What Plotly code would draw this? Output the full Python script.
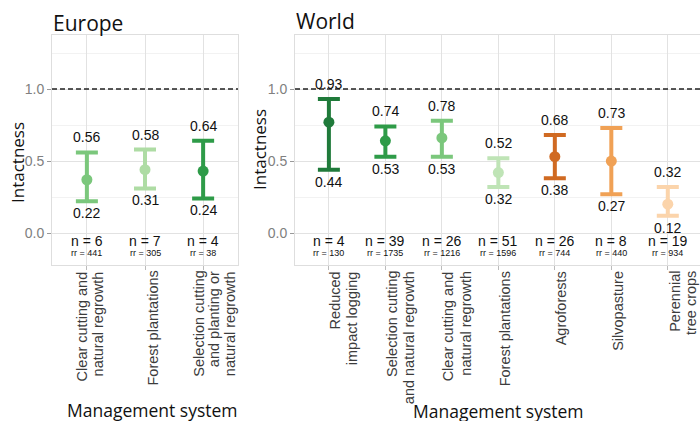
import plotly.graph_objects as go

# ---------------- data ----------------
eu_categories = ["Clear cutting and<br>natural regrowth", "Forest plantations",
                 "Selection cutting<br>and planting or<br>natural regrowth"]
eu_mean = [0.37, 0.44, 0.43]
eu_lower = [0.22, 0.31, 0.24]
eu_upper = [0.56, 0.58, 0.64]
eu_n = [6, 7, 4]
eu_rr = [441, 305, 38]

w_categories = ["Reduced<br>impact logging", "Selection cutting<br>and natural regrowth",
                "Clear cutting and<br>natural regrowth", "Forest plantations",
                "Agroforests", "Silvopasture", "Perennial<br>tree crops"]
w_mean = [0.77, 0.64, 0.66, 0.42, 0.53, 0.50, 0.20]
w_lower = [0.44, 0.53, 0.53, 0.32, 0.38, 0.27, 0.12]
w_upper = [0.93, 0.74, 0.78, 0.52, 0.68, 0.73, 0.32]
w_n = [4, 39, 26, 51, 26, 8, 19]
w_rr = [130, 1735, 1216, 1596, 744, 440, 934]

y_ticks = [0.0, 0.5, 1.0]
y_ticktext = ["0.0", "0.5", "1.0"]

# ---------------- styles ----------------
eu_colors = ["#7bc77c", "#aedca4", "#2e9b48"]
w_colors = ["#1f7a3a", "#2e9b48", "#7bc77c", "#bfe4b6", "#d06a22", "#f0a155", "#fbd4ab"]

W, H = 700, 421
FONT = "Liberation Sans, Arial, sans-serif"
TFONT = "Open Sans, Liberation Sans, sans-serif"

def px_x(p):
    return p / W

def px_y(p):
    return 1 - p / H

fig = go.Figure()

panels = [
    dict(cats=eu_categories, mean=eu_mean, lo=eu_lower, hi=eu_upper, n=eu_n, rr=eu_rr,
         colors=eu_colors, xa="x", ya="y", title="Europe"),
    dict(cats=w_categories, mean=w_mean, lo=w_lower, hi=w_upper, n=w_n, rr=w_rr,
         colors=w_colors, xa="x2", ya="y2", title="World"),
]

annotations = []
shapes = []
for pi, p in enumerate(panels):
    idx = list(range(len(p["cats"])))
    for i in idx:
        fig.add_trace(go.Scatter(
            x=[i], y=[p["mean"][i]], mode="markers",
            xaxis=p["xa"], yaxis=p["ya"],
            marker=dict(color=p["colors"][i], size=11),
            error_y=dict(type="data", symmetric=False,
                         array=[p["hi"][i] - p["mean"][i]],
                         arrayminus=[p["mean"][i] - p["lo"][i]],
                         color=p["colors"][i], thickness=4, width=11),
            showlegend=False, hoverinfo="skip"))
        annotations.append(dict(x=i, y=p["hi"][i], xref=p["xa"], yref=p["ya"],
                                text=f"{p['hi'][i]:.2f}", showarrow=False,
                                yanchor="middle", yshift=15,
                                font=dict(size=14, color="#111", family=FONT)))
        annotations.append(dict(x=i, y=p["lo"][i], xref=p["xa"], yref=p["ya"],
                                text=f"{p['lo'][i]:.2f}", showarrow=False,
                                yanchor="middle", yshift=-12,
                                font=dict(size=14, color="#111", family=FONT)))
        annotations.append(dict(x=i, y=-0.055, xref=p["xa"], yref=p["ya"],
                                text=f"n = {p['n'][i]}", showarrow=False,
                                yanchor="middle",
                                font=dict(size=14, color="#111", family=FONT)))
        annotations.append(dict(x=i, y=-0.14, xref=p["xa"], yref=p["ya"],
                                text=f"rr = {p['rr'][i]}", showarrow=False,
                                yanchor="middle",
                                font=dict(size=9, color="#111", family=FONT)))
        lines = p["cats"][i].split("<br>")
        if pi == 0:
            first, step = (7, 0) if len(lines) == 1 else (-4.5, 15.5)
        else:
            first, step = 6.5, 16.8
        for k, line in enumerate(lines):
            annotations.append(dict(x=i, y=px_y(269), xref=p["xa"], yref="paper",
                                    text=line, showarrow=False, textangle=-90,
                                    xanchor="center", yanchor="top",
                                    xshift=first + k * step,
                                    font=dict(size=14.5, color="#3c3c3c", family=FONT)))
    shapes.append(dict(type="line", xref=f"{p['xa']} domain", yref=p["ya"],
                       x0=0, x1=1, y0=1, y1=1,
                       line=dict(color="#222", width=1.5, dash="5px,3px")))

# titles and axis titles
annotations += [
    dict(x=px_x(51), y=px_y(23), xref="paper", yref="paper", text="Europe",
         showarrow=False, xanchor="left", yanchor="middle",
         font=dict(size=21, color="#111", family=TFONT)),
    dict(x=px_x(294), y=px_y(21), xref="paper", yref="paper", text="World",
         showarrow=False, xanchor="left", yanchor="middle",
         font=dict(size=21, color="#111", family=TFONT)),
    dict(x=px_x(18), y=px_y(163), xref="paper", yref="paper", text="Intactness",
         showarrow=False, textangle=-90, xanchor="center", yanchor="middle",
         font=dict(size=17, color="#111", family=TFONT)),
    dict(x=px_x(259), y=px_y(150), xref="paper", yref="paper", text="Intactness",
         showarrow=False, textangle=-90, xanchor="center", yanchor="middle",
         font=dict(size=17, color="#111", family=TFONT)),
    dict(x=px_x(152), y=px_y(410), xref="paper", yref="paper", text="Management system",
         showarrow=False, xanchor="center", yanchor="middle",
         font=dict(size=17.5, color="#111", family=TFONT)),
    dict(x=px_x(498), y=px_y(411), xref="paper", yref="paper", text="Management system",
         showarrow=False, xanchor="center", yanchor="middle",
         font=dict(size=17.5, color="#111", family=TFONT)),
]

yaxis_common = dict(
    range=[-0.222, 1.375], tickvals=y_ticks, ticktext=y_ticktext,
    showgrid=True, gridcolor="#e2e2e2", gridwidth=1, zeroline=False,
    minor=dict(tickvals=[0.25, 0.75, 1.25], showgrid=True, gridcolor="#f2f2f2", gridwidth=1),
    ticks="outside", ticklen=4, tickcolor="#999", tickwidth=1,
    tickfont=dict(size=14, color="#808080", family=FONT),
    showline=True, linecolor="#dedede", linewidth=1, mirror=True,
    domain=[px_y(265), px_y(35)], fixedrange=True,
)
xaxis_common = dict(
    showgrid=True, gridcolor="#e2e2e2", gridwidth=1, zeroline=False,
    ticks="outside", ticklen=4, tickcolor="#bbb", showticklabels=False,
    showline=True, linecolor="#dedede", linewidth=1, mirror=True, fixedrange=True,
)

fig.update_layout(
    width=W, height=H, margin=dict(l=0, r=0, t=0, b=0),
    paper_bgcolor="white", plot_bgcolor="white",
    xaxis=dict(xaxis_common, domain=[px_x(52), px_x(238)], range=[-0.6, 2.6],
               tickvals=list(range(len(eu_categories)))),
    xaxis2=dict(xaxis_common, domain=[px_x(295), 1.0], range=[-0.6, 6.57],
                tickvals=list(range(len(w_categories))), anchor="y2"),
    yaxis=dict(yaxis_common, anchor="x"),
    yaxis2=dict(yaxis_common, anchor="x2"),
    annotations=annotations, shapes=shapes,
)

fig.write_html("out.html", config={"displayModeBar": False},
               post_script="document.body.style.margin='0';document.body.style.overflow='hidden';")
